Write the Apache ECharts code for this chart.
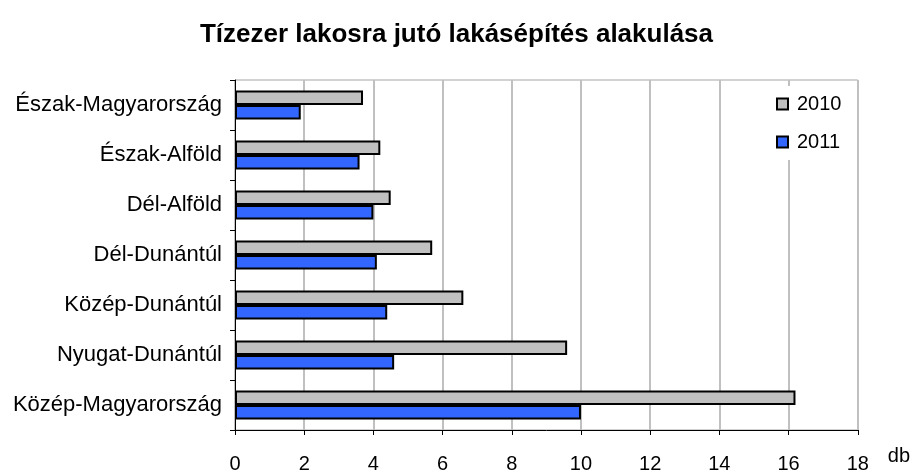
<!DOCTYPE html>
<html>
<head>
<meta charset="utf-8">
<script src="https://cdn.jsdelivr.net/npm/echarts@6/dist/echarts.min.js"></script>
<style>
  html, body { margin: 0; padding: 0; background: #fff; }
  #chart { width: 913px; height: 474px; }
</style>
</head>
<body>
<div id="chart"></div>
<script>
const regions = ['Észak-Magyarország', 'Észak-Alföld', 'Dél-Alföld', 'Dél-Dunántúl',
                 'Közép-Dunántúl', 'Nyugat-Dunántúl', 'Közép-Magyarország'];
const values2010 = [3.7, 4.2, 4.5, 5.7, 6.6, 9.6, 16.2];
const values2011 = [1.9, 3.6, 4.0, 4.1, 4.4, 4.6, 10.0];
const seriesNames = ['2010', '2011'];

const font = 'Liberation Sans, Arial, sans-serif';
const chart = echarts.init(document.getElementById('chart'));

// vízszintes oszlopdiagram, Excel stílusban
const option = {
    animation: false,
    textStyle: { fontFamily: font, color: '#000' },
    title: {
        text: 'Tízezer lakosra jutó lakásépítés alakulása',
        left: 'center',
        top: 17,
        textStyle: { fontFamily: font, fontSize: 26, fontWeight: 'bold', color: '#000' }
    },
    legend: {
        orient: 'vertical',
        left: 768,
        top: 86,
        itemWidth: 11,
        itemHeight: 11,
        itemGap: 18,
        padding: [8, 10, 8, 8],
        backgroundColor: '#fff',
        icon: 'rect',
        textStyle: { fontFamily: font, fontSize: 20, color: '#000', padding: [0, 0, 0, 4] },
        data: seriesNames
    },
    grid: {
        left: 235, right: 54, top: 80, bottom: 39,
        show: true, borderColor: '#a6a6a6', borderWidth: 1
    },
    xAxis: {
        type: 'value',
        min: 0, max: 18, interval: 2,
        name: 'db',
        nameLocation: 'end',
        nameGap: 30,
        nameTextStyle: { fontFamily: font, fontSize: 20, color: '#000', verticalAlign: 'top', padding: [16, 0, 0, 0] },
        axisLine: { show: true, lineStyle: { color: '#000', width: 1 } },
        axisTick: { show: true, length: 5, lineStyle: { color: '#000' } },
        axisLabel: { fontFamily: font, fontSize: 20, color: '#000', margin: 24 },
        splitLine: { show: true, lineStyle: { color: '#c0c0c0', width: 2 } }
    },
    yAxis: {
        type: 'category',
        inverse: true,
        data: regions,
        axisLine: { show: true, lineStyle: { color: '#000', width: 1 } },
        axisTick: { show: true, length: 5, lineStyle: { color: '#000' } },
        axisLabel: { fontFamily: font, fontSize: 22, color: '#000', margin: 13 }
    },
    series: [
        {
            name: seriesNames[0], type: 'bar', data: values2010,
            barGap: '0%', barCategoryGap: '42%',
            itemStyle: { color: '#c0c0c0', borderColor: '#000', borderWidth: 2 }
        },
        {
            name: seriesNames[1], type: 'bar', data: values2011,
            itemStyle: { color: '#3366ff', borderColor: '#000', borderWidth: 2 }
        }
    ]
};
chart.setOption(option);
</script>
</body>
</html>
